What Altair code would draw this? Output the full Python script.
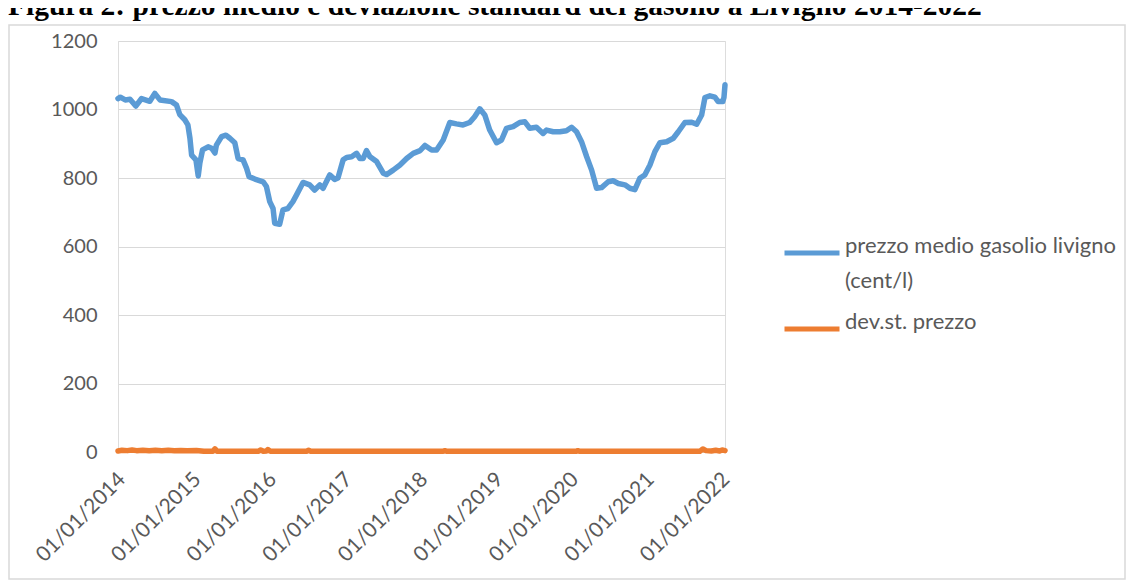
import altair as alt
import pandas as pd

SERIES = ["prezzo medio gasolio livigno (cent/l)", "dev.st. prezzo"]

prezzo_dates = [
    "2014-01-01", "2014-01-12", "2014-02-05", "2014-02-28", "2014-03-28", "2014-04-25",
    "2014-06-04", "2014-06-28", "2014-07-23", "2014-09-17", "2014-10-11", "2014-10-27",
    "2014-11-20", "2014-12-05", "2014-12-15", "2014-12-23", "2015-01-13", "2015-01-24",
    "2015-02-01", "2015-02-14", "2015-03-13", "2015-03-30", "2015-04-15", "2015-04-22",
    "2015-05-17", "2015-06-07", "2015-06-26", "2015-07-20", "2015-08-05", "2015-08-29",
    "2015-09-15", "2015-09-27", "2015-10-25", "2015-12-04", "2015-12-20", "2016-01-05",
    "2016-01-21", "2016-01-29", "2016-02-22", "2016-03-09", "2016-04-02", "2016-04-26",
    "2016-05-13", "2016-06-14", "2016-07-16", "2016-08-09", "2016-09-03", "2016-09-19",
    "2016-10-21", "2016-11-14", "2016-11-30", "2016-12-25", "2017-01-11", "2017-02-04",
    "2017-02-28", "2017-03-16", "2017-04-01", "2017-04-17", "2017-05-04", "2017-06-05",
    "2017-07-07", "2017-07-24", "2017-08-24", "2017-09-26", "2017-10-28", "2017-11-29",
    "2018-01-01", "2018-01-25", "2018-02-26", "2018-03-22", "2018-04-23", "2018-05-25",
    "2018-06-26", "2018-07-28", "2018-08-29", "2018-09-22", "2018-10-17", "2018-11-10",
    "2018-12-04", "2019-01-06", "2019-01-30", "2019-02-23", "2019-03-27", "2019-04-28",
    "2019-05-23", "2019-06-16", "2019-07-18", "2019-08-19", "2019-09-05", "2019-10-07",
    "2019-11-08", "2019-12-10", "2020-01-04", "2020-01-28", "2020-02-21", "2020-03-17",
    "2020-04-10", "2020-05-04", "2020-05-28", "2020-06-29", "2020-07-23", "2020-08-17",
    "2020-09-18", "2020-10-12", "2020-11-05", "2020-11-29", "2020-12-23", "2021-01-17",
    "2021-02-10", "2021-03-06", "2021-04-08", "2021-05-10", "2021-06-03", "2021-07-05",
    "2021-08-07", "2021-08-31", "2021-09-24", "2021-10-10", "2021-11-03", "2021-11-27",
    "2021-12-13", "2022-01-04", "2022-01-10", "2022-01-15",
]
prezzo = [
    1032, 1036, 1028, 1030, 1010, 1032,
    1024, 1047, 1028, 1023, 1013, 985,
    970, 955, 916, 867, 853, 806,
    844, 882, 891, 887, 873, 896,
    921, 925, 916, 903, 857, 853,
    828, 804, 797, 789, 775, 731,
    711, 668, 665, 707, 711, 731,
    750, 787, 780, 765, 780, 770,
    809, 796, 800, 853, 860, 862,
    872, 857, 857, 880, 862, 848,
    814, 810, 823, 838, 857, 872,
    880, 895, 882, 882, 911, 962,
    958, 955, 962, 979, 1002, 984,
    940, 903, 911, 945, 950, 962,
    964, 945, 948, 930, 940, 935,
    935, 938, 948, 935, 906, 862,
    823, 770, 772, 789, 792, 784,
    780, 770, 766, 799, 809, 838,
    877, 903, 906, 916, 935, 962,
    963, 957, 984, 1035, 1040, 1036,
    1023, 1023, 1035, 1072,
]

dev_dates = [
    "2014-01-01", "2014-01-20", "2014-02-15", "2014-03-10", "2014-04-01", "2014-05-01",
    "2014-06-01", "2014-07-01", "2014-08-01", "2014-09-01", "2014-10-01", "2014-11-01",
    "2014-12-01", "2015-01-15", "2015-02-20", "2015-04-05", "2015-04-15", "2015-04-25",
    "2015-11-10", "2015-11-22", "2015-12-05", "2015-12-20", "2015-12-27", "2016-01-08",
    "2016-07-01", "2016-07-11", "2016-07-21", "2018-04-20", "2018-05-01", "2018-05-12",
    "2020-01-25", "2020-02-03", "2020-02-13", "2021-09-15", "2021-09-30", "2021-10-15",
    "2021-11-10", "2021-12-01", "2021-12-20", "2022-01-01", "2022-01-15",
]
dev = [
    3, 5, 4, 6, 4, 5,
    3.5, 5, 4, 5, 3.5, 4.5,
    3.5, 4.5, 2, 2, 9, 2,
    2, 6, 2, 3, 7, 2,
    2, 5, 2, 2, 4, 2,
    2, 4, 2, 2, 9, 4,
    3, 5, 3, 6, 4,
]

year_ticks = [2014, 2015, 2016, 2017, 2018, 2019, 2020, 2021, 2022]
y_ticks = [0, 200, 400, 600, 800, 1000, 1200]

df = pd.concat([
    pd.DataFrame({"data": pd.to_datetime(prezzo_dates), "valore": prezzo, "serie": SERIES[0]}),
    pd.DataFrame({"data": pd.to_datetime(dev_dates), "valore": dev, "serie": SERIES[1]}),
])

FONT = "Lato"
GREY = "#595959"

x_scale = alt.Scale(domain=[alt.DateTime(year=2014, month=1, date=1),
                            alt.DateTime(year=2022, month=1, date=15)])

lines = alt.Chart(df).mark_line(strokeWidth=5.5, strokeCap="round", strokeJoin="round").encode(
    x=alt.X("data:T", scale=x_scale, title=None,
            axis=alt.Axis(values=[alt.DateTime(year=y, month=1, date=1) for y in year_ticks],
                          format="%d/%m/%Y", labelAngle=-45, labelAlign="right",
                          labelBaseline="middle", labelPadding=24, labelOffset=4,
                          ticks=False, domain=True, domainColor="#D9D9D9", grid=False,
                          labelFont=FONT, labelFontSize=21, labelColor=GREY,
                          labelOverlap=False, labelFlush=False)),
    y=alt.Y("valore:Q", scale=alt.Scale(domain=[0, 1200], nice=False), title=None,
            axis=alt.Axis(values=y_ticks, format="d", ticks=False,
                          domain=False, grid=True, gridColor="#D9D9D9", gridWidth=1.2,
                          labelFont=FONT, labelFontSize=20, labelColor=GREY,
                          labelPadding=21)),
    color=alt.Color("serie:N",
                    scale=alt.Scale(domain=SERIES, range=["#5B9BD5", "#ED7D31"]),
                    legend=alt.Legend(title=None, orient="none", legendX=664, legendY=182,
                                      symbolType="stroke", symbolSize=3025,
                                      symbolStrokeWidth=5, labelFont=FONT,
                                      labelFontSize=22, labelColor=GREY, labelOffset=3,
                                      labelLimit=400, rowPadding=7, padding=0,
                                      labelBaseline="alphabetic",
                                      labelExpr="datum.label == 'prezzo medio gasolio livigno (cent/l)' ? ['prezzo medio gasolio livigno', '(cent/l)'] : datum.label")),
    order=alt.Order("serie:N"),
)

frame = alt.Chart(pd.DataFrame({"k": [0]})).mark_rect(
    fill=None, stroke="#D9D9D9", strokeWidth=1.5
).encode(x=alt.value(-109), x2=alt.value(1007), y=alt.value(-16), y2=alt.value(538))

chart = alt.layer(frame, lines).properties(
    width=607, height=411,
    autosize=alt.AutoSizeParams(type="none"),
    padding={"left": 110, "top": 33, "right": 401, "bottom": 128},
    title=alt.Title("Figura 2: prezzo medio e deviazione standard del gasolio a Livigno 2014-2022",
                    font="Liberation Serif", fontSize=29.5, fontWeight="bold", color="black",
                    anchor="start", frame="group", align="left", baseline="alphabetic",
                    dx=-110, dy=25, offset=5),
).configure_view(stroke=None).configure(style={"guide-label": {"lineHeight": 35}})

chart.save("out.html", embed_options={"renderer": "svg", "actions": False})
